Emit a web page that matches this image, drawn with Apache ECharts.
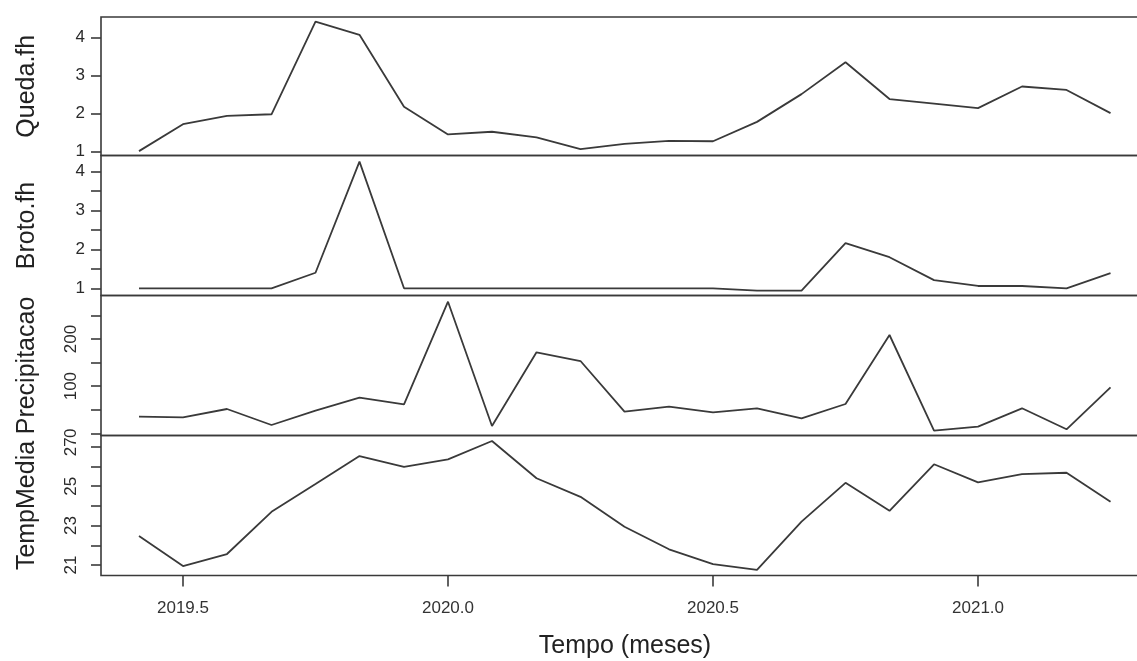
<!DOCTYPE html>
<html>
<head>
<meta charset="utf-8">
<script src="https://cdn.jsdelivr.net/npm/echarts@6/dist/echarts.min.js"></script>
<style>
  html, body { margin: 0; padding: 0; background: #fff; }
  #chart { width: 1137px; height: 661px; }
</style>
</head>
<body>
<div id="chart"></div>
<script>
// months as decimal years (Jun 2019 .. Apr 2021)
const meses = [2019.417, 2019.5, 2019.583, 2019.667, 2019.75, 2019.833, 2019.917,
  2020.0, 2020.083, 2020.167, 2020.25, 2020.333, 2020.417, 2020.5, 2020.583,
  2020.667, 2020.75, 2020.833, 2020.917, 2021.0, 2021.083, 2021.167, 2021.25]

const queda = [1.01, 1.72, 1.94, 1.98, 4.42, 4.07, 2.18, 1.45, 1.52, 1.37, 1.06, 1.20,
  1.28, 1.27, 1.78, 2.51, 3.35, 2.38, 2.26, 2.14, 2.71, 2.62, 2.01]
const broto = [1.0, 1.0, 1.0, 1.0, 1.40, 4.26, 1.0, 1.0, 1.0, 1.0, 1.0, 1.0,
  1.0, 1.0, 0.94, 0.94, 2.16, 1.80, 1.21, 1.06, 1.06, 1.0, 1.39]
const precipitacao = [35.2, 33.9, 51.5, 17.6, 47.9, 75.5, 61.5, 279.1, 15.5, 171.8, 153.3, 45.8,
  56.4, 44.5, 53.0, 31.8, 62.1, 208.5, 5.5, 14.0, 53.0, 8.5, 97.6]
const tempMedia = [22.47, 20.95, 21.56, 23.70, 25.11, 26.53, 25.98, 26.36, 27.29, 25.40, 24.46, 22.94,
  21.80, 21.05, 20.75, 23.20, 25.17, 23.75, 26.11, 25.19, 25.61, 25.68, 24.21]

// tick positions and labelled ticks
const ticksX = [2019.5, 2020.0, 2020.5, 2021.0]
const ticksQueda = [1, 2, 3, 4]
const labelsQueda = [1, 2, 3, 4]
const ticksBroto = [1, 1.5, 2, 2.5, 3, 3.5, 4]
const labelsBroto = [1, 2, 3, 4]
const ticksPrec = [0, 50, 100, 150, 200, 250]
const labelsPrec = [0, 100, 200]
const ticksTemp = [21, 22, 23, 24, 25, 26, 27]
const labelsTemp = [21, 23, 25, 27]

const ink = '#3a3a3a'
const font = 'Liberation Sans, Arial, Helvetica, sans-serif'

const panels = [
  { name: 'Queda.fh', values: queda, ticks: ticksQueda, labels: labelsQueda, min: 0.895, max: 4.539, rot: 0, top: 17, height: 138.5 },
  { name: 'Broto.fh', values: broto, ticks: ticksBroto, labels: labelsBroto, min: 0.815, max: 4.417, rot: 0, top: 155.5, height: 140 },
  { name: 'Precipitacao', values: precipitacao, ticks: ticksPrec, labels: labelsPrec, min: -4.7, max: 292.3, rot: 90, top: 295.5, height: 140 },
  { name: 'TempMedia', values: tempMedia, ticks: ticksTemp, labels: labelsTemp, min: 20.47, max: 27.57, rot: 90, top: 435.5, height: 140 }
]

const chart = echarts.init(document.getElementById('chart'))

const grids = []
const xAxes = []
const yAxes = []
const series = []

panels.forEach((p, i) => {
  const last = i === panels.length - 1
  // plot box runs past the right edge of the picture, as in the original
  grids.push({
    left: 101, width: 1048, top: p.top, height: p.height,
    outerBoundsMode: 'none', containLabel: false,
    show: true, borderColor: ink, borderWidth: 1.6, backgroundColor: 'transparent'
  })
  xAxes.push({
    gridIndex: i,
    type: 'value',
    min: 2019.3453,
    max: 2021.3226,
    axisLine: { show: false },
    splitLine: { show: false },
    axisTick: { show: last, length: 11, lineStyle: { color: ink, width: 1.6 }, customValues: ticksX },
    axisLabel: {
      show: last, margin: 24, fontSize: 17, color: '#333', fontFamily: font,
      customValues: ticksX,
      formatter: v => v.toFixed(1)
    },
    name: last ? 'Tempo (meses)' : '',
    nameLocation: 'middle',
    nameGap: 58,
    nameTextStyle: { fontSize: 25, color: '#222', fontFamily: font }
  })
  yAxes.push({
    gridIndex: i,
    type: 'value',
    min: p.min,
    max: p.max,
    axisLine: { show: false },
    splitLine: { show: false },
    axisTick: { show: true, length: 10, lineStyle: { color: ink, width: 1.6 }, customValues: p.ticks },
    axisLabel: {
      margin: p.rot ? 21 : 16, rotate: p.rot, fontSize: 17, color: '#2a2a2a', fontFamily: font,
      customValues: p.labels
    },
    name: p.name,
    nameLocation: 'middle',
    nameRotate: 90,
    nameGap: 61,
    nameTextStyle: { fontSize: 25, color: '#222', fontFamily: font }
  })
  series.push({
    type: 'line',
    xAxisIndex: i,
    yAxisIndex: i,
    data: meses.map((t, k) => [t, p.values[k]]),
    showSymbol: false,
    lineStyle: { color: ink, width: 1.8 },
    animation: false
  })
})

chart.setOption({
  animation: false,
  grid: grids,
  xAxis: xAxes,
  yAxis: yAxes,
  series: series
})
</script>
</body>
</html>
